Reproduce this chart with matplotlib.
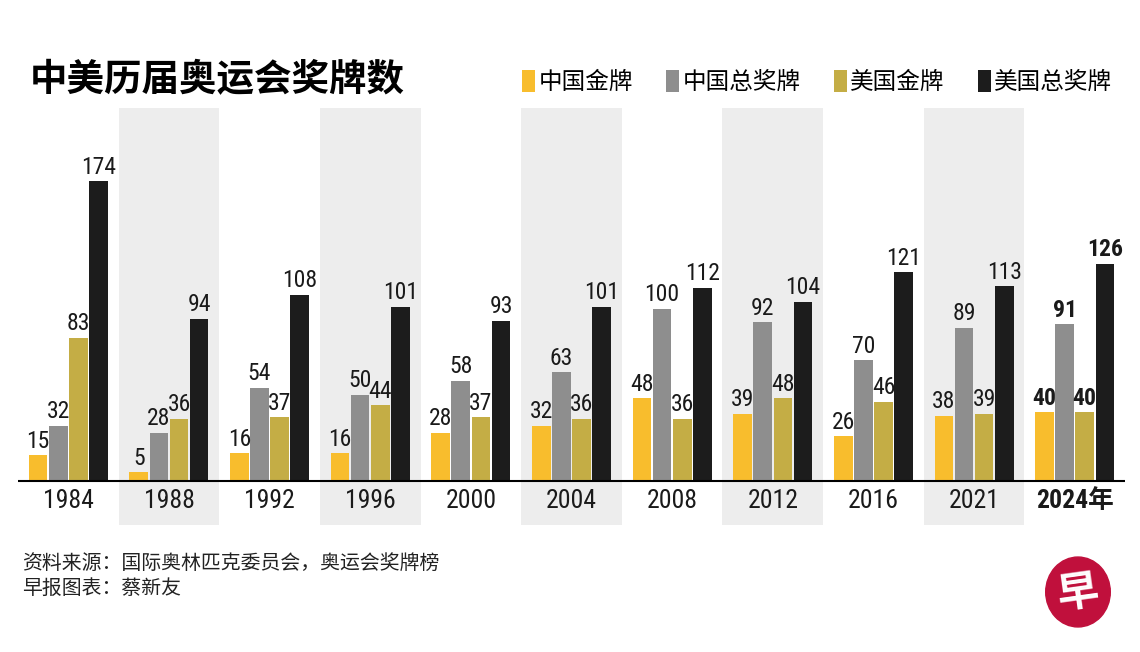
import matplotlib.pyplot as plt
import numpy as np
from matplotlib.patches import Ellipse

years = ["1984", "1988", "1992", "1996", "2000", "2004", "2008", "2012", "2016", "2021", "2024年"]
china_gold = [15, 5, 16, 16, 28, 32, 48, 39, 26, 38, 40]
china_total = [32, 28, 54, 50, 58, 63, 100, 92, 70, 89, 91]
usa_gold = [83, 36, 37, 44, 37, 36, 36, 48, 46, 39, 40]
usa_total = [174, 94, 108, 101, 93, 101, 112, 104, 121, 113, 126]
series_names = ["中国金牌", "中国总奖牌", "美国金牌", "美国总奖牌"]
colors = ["#F8BD2D", "#8E8E8E", "#C4AD45", "#1C1C1C"]

num_font = ["Roboto Condensed", "Liberation Sans Narrow", "Noto Sans CJK SC", "DejaVu Sans"]
cjk_font = ["Noto Sans CJK SC", "DejaVu Sans"]

fig = plt.figure(figsize=(11.4, 6.52), dpi=100)
ax = fig.add_axes([18 / 1140, 127 / 652, 1107 / 1140, 417 / 652])

x = np.arange(len(years))
ax.set_xlim(-0.5, len(years) - 0.5)
ax.set_ylim(-25.5, 216.4)

# alternating grey bands
for i in x[1::2]:
    ax.axvspan(i - 0.5, i + 0.5, color="#EDEDED", lw=0, zorder=0)

width = 0.185
offsets = [-0.3, -0.1, 0.1, 0.3]
all_series = [china_gold, china_total, usa_gold, usa_total]
handles = []
for vals, off, col, name in zip(all_series, offsets, colors, series_names):
    b = ax.bar(x + off, vals, width=width, color=col, label=name, zorder=2)
    handles.append(b)
    for xi, v in zip(x, vals):
        last = xi == len(years) - 1
        ax.text(xi + off, v + 1.5, str(v), ha="center", va="bottom",
                fontsize=17, family=num_font,
                fontweight="bold" if last else "normal", color="#1a1a1a")

ax.axhline(0, color="black", lw=1.5, zorder=3)

for xi, yr in zip(x, years):
    last = xi == len(years) - 1
    ax.text(xi, -11.5, yr, ha="center", va="center", fontsize=18.5,
            family=num_font, fontweight="bold" if last else "normal",
            color="#1a1a1a")

ax.axis("off")

fig.text(30 / 1140, 1 - 80 / 652, "中美历届奥运会奖牌数", fontsize=27,
         family=cjk_font, fontweight="heavy", va="center", ha="left")

fig.legend(handles=handles, labels=series_names, loc="center right",
           bbox_to_anchor=(1122 / 1140, 1 - 82 / 652), ncol=4, frameon=False,
           prop={"family": cjk_font, "size": 17}, handlelength=0.55,
           handleheight=1.1, handletextpad=0.15, columnspacing=1.4,
           borderaxespad=0.0)

fig.text(22 / 1140, 1 - 563 / 652, "资料来源：国际奥林匹克委员会，奥运会奖牌榜",
         fontsize=14.3, family=cjk_font, va="center", color="#222222")
fig.text(22 / 1140, 1 - 588 / 652, "早报图表：蔡新友",
         fontsize=14.3, family=cjk_font, va="center", color="#222222")

# logo
logo_ax = fig.add_axes([1040 / 1140, 1 - 630 / 652, 76 / 1140, 76 / 652])
logo_ax.set_xlim(0, 1)
logo_ax.set_ylim(0, 1)
logo_ax.add_patch(Ellipse((0.5, 0.5), 0.85, 0.92, color="#C0103C"))
logo_ax.text(0.5, 0.48, "早", color="white", fontsize=30, family=cjk_font,
             fontweight="bold", ha="center", va="center", rotation=8)
logo_ax.axis("off")

fig.savefig("out.png", dpi=100, facecolor="white")
